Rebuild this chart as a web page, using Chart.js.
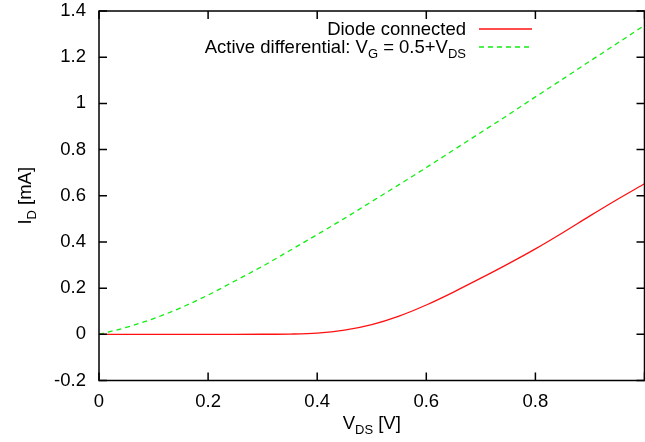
<!DOCTYPE html>
<html>
<head>
<meta charset="utf-8">
<script src="https://cdn.jsdelivr.net/npm/chart.js@4"></script>
<style>
html, body { margin: 0; padding: 0; background: #fff; }
#wrap { width: 645px; height: 442px; position: relative; }
</style>
</head>
<body>
<div id="wrap"><canvas id="chart"></canvas></div>
<script>
// V_DS sweep [V]
const vds = [0, 0.05, 0.1, 0.15, 0.2, 0.25, 0.3, 0.35, 0.4, 0.45, 0.5,
             0.55, 0.6, 0.65, 0.7, 0.75, 0.8, 0.85, 0.9, 0.95, 1.0];
// drain current [mA]
const idDiode = [0, 0, 0, 0, 0, 0, 0.0002, 0.001, 0.005, 0.018, 0.042,
                 0.079, 0.127, 0.183, 0.243, 0.305, 0.37, 0.44, 0.513, 0.584, 0.652];
const idActive = [0, 0.03, 0.068, 0.115, 0.17, 0.232, 0.295, 0.363, 0.432, 0.502, 0.575,
                  0.648, 0.722, 0.798, 0.874, 0.95, 1.028, 1.105, 1.183, 1.26, 1.338];

const xTicks = [0, 0.2, 0.4, 0.6, 0.8, 1];
const yTicks = [-0.2, 0, 0.2, 0.4, 0.6, 0.8, 1, 1.2, 1.4];

// text pieces: [text, isSubscript]
const legendDiode = [['Diode connected', false]];
const legendActive = [['Active differential: V', false], ['G', true], [' = 0.5+V', false], ['DS', true]];
const xTitle = [['V', false], ['DS', true], [' [V]', false]];
const yTitle = [['I', false], ['D', true], [' [mA]', false]];

const FONT = '"Liberation Sans", Arial, Helvetica, sans-serif';
const FS = 18.5;
const SUB = 13;

function toPoints(xs, ys) {
    const pts = [];
    for (let i=0; i<xs.length; i++) {
        pts.push({x: xs[i], y: ys[i]});
    }
    return pts;
}

function pieceWidth(ctx, parts) {
    let w = 0;
    for (const p of parts) {
        ctx.font = (p[1] ? SUB : FS) + 'px ' + FONT;
        w += ctx.measureText(p[0]).width;
    }
    return w;
}

function drawPieces(ctx, parts, x, y) {
    ctx.textAlign = 'left';
    ctx.textBaseline = 'alphabetic';
    for (const p of parts) {
        ctx.font = (p[1] ? SUB : FS) + 'px ' + FONT;
        ctx.fillText(p[0], x, p[1] ? y + 5 : y);
        x += ctx.measureText(p[0]).width;
    }
}

const framePlugin = {
    id: 'frame',
    afterDraw(chart) {
        const ctx = chart.ctx;
        const a = chart.chartArea;
        const xs = chart.scales.x;
        const ys = chart.scales.y;
        const tl = 8;
        ctx.save();
        ctx.strokeStyle = '#000';
        ctx.lineWidth = 1.5;
        ctx.strokeRect(a.left, a.top, a.right - a.left, a.bottom - a.top);
        ctx.beginPath();
        for (const v of xTicks) {
            const px = xs.getPixelForValue(v);
            ctx.moveTo(px, a.bottom); ctx.lineTo(px, a.bottom - tl);
            ctx.moveTo(px, a.top); ctx.lineTo(px, a.top + tl);
        }
        for (const v of yTicks) {
            const py = ys.getPixelForValue(v);
            ctx.moveTo(a.left, py); ctx.lineTo(a.left + tl, py);
            ctx.moveTo(a.right, py); ctx.lineTo(a.right - tl, py);
        }
        ctx.stroke();

        ctx.fillStyle = '#000';
        // x title
        const xw = pieceWidth(ctx, xTitle);
        drawPieces(ctx, xTitle, (a.left + a.right) / 2 - xw / 2, 429);
        // y title
        const yw = pieceWidth(ctx, yTitle);
        ctx.save();
        ctx.translate(31, (a.top + a.bottom) / 2);
        ctx.rotate(-Math.PI / 2);
        drawPieces(ctx, yTitle, -yw / 2, 0);
        ctx.restore();

        // legend, gnuplot style: text right aligned, sample on the right
        const rows = [
            {parts: legendDiode, ds: chart.data.datasets[0], y: 29},
            {parts: legendActive, ds: chart.data.datasets[1], y: 47}
        ];
        for (const r of rows) {
            const w = pieceWidth(ctx, r.parts);
            drawPieces(ctx, r.parts, 466 - w, r.y + 6);
            ctx.beginPath();
            ctx.strokeStyle = r.ds.borderColor;
            ctx.lineWidth = r.ds.borderWidth;
            ctx.setLineDash(r.ds.borderDash || []);
            ctx.moveTo(479, r.y); ctx.lineTo(532, r.y);
            ctx.stroke();
            ctx.setLineDash([]);
        }
        ctx.restore();
    }
};

function fmt(v) {
    return +v.toFixed(2) + '';
}

new Chart(document.getElementById('chart'), {
    type: 'line',
    data: {
        datasets: [
            {
                label: 'Diode connected',
                data: toPoints(vds, idDiode),
                borderColor: '#ff1010',
                borderWidth: 1.3,
                pointRadius: 0,
                cubicInterpolationMode: 'monotone'
            },
            {
                label: 'Active differential',
                data: toPoints(vds, idActive),
                borderColor: '#10ee10',
                borderWidth: 1.3,
                borderDash: [5, 4],
                pointRadius: 0,
                cubicInterpolationMode: 'monotone'
            }
        ]
    },
    options: {
        responsive: true,
        maintainAspectRatio: false,
        animation: false,
        layout: { padding: { top: 11, right: 0.5, left: 0, bottom: 0 } },
        plugins: { legend: { display: false }, tooltip: { enabled: false } },
        scales: {
            x: {
                type: 'linear',
                min: 0,
                max: 1,
                afterFit: (s) => { s.height = 61.5; s.paddingRight = 0; s.paddingLeft = 0; },
                afterBuildTicks: (s) => { s.ticks = xTicks.map(v => ({value: v})); },
                grid: { display: false, drawTicks: false, tickLength: 0 },
                border: { display: false },
                ticks: {
                    padding: 10,
                    color: '#000',
                    maxRotation: 0,
                    font: { family: FONT, size: FS },
                    callback: (v) => v >= 1 ? '' : fmt(v)
                }
            },
            y: {
                min: -0.2,
                max: 1.4,
                afterFit: (s) => { s.width = 99; s.paddingTop = 0; s.paddingBottom = 0; },
                afterBuildTicks: (s) => { s.ticks = yTicks.map(v => ({value: v})); },
                grid: { display: false, drawTicks: false, tickLength: 0 },
                border: { display: false },
                ticks: {
                    padding: 13,
                    color: '#000',
                    font: { family: FONT, size: FS },
                    callback: (v) => fmt(v)
                }
            }
        }
    },
    plugins: [framePlugin]
});
</script>
</body>
</html>
